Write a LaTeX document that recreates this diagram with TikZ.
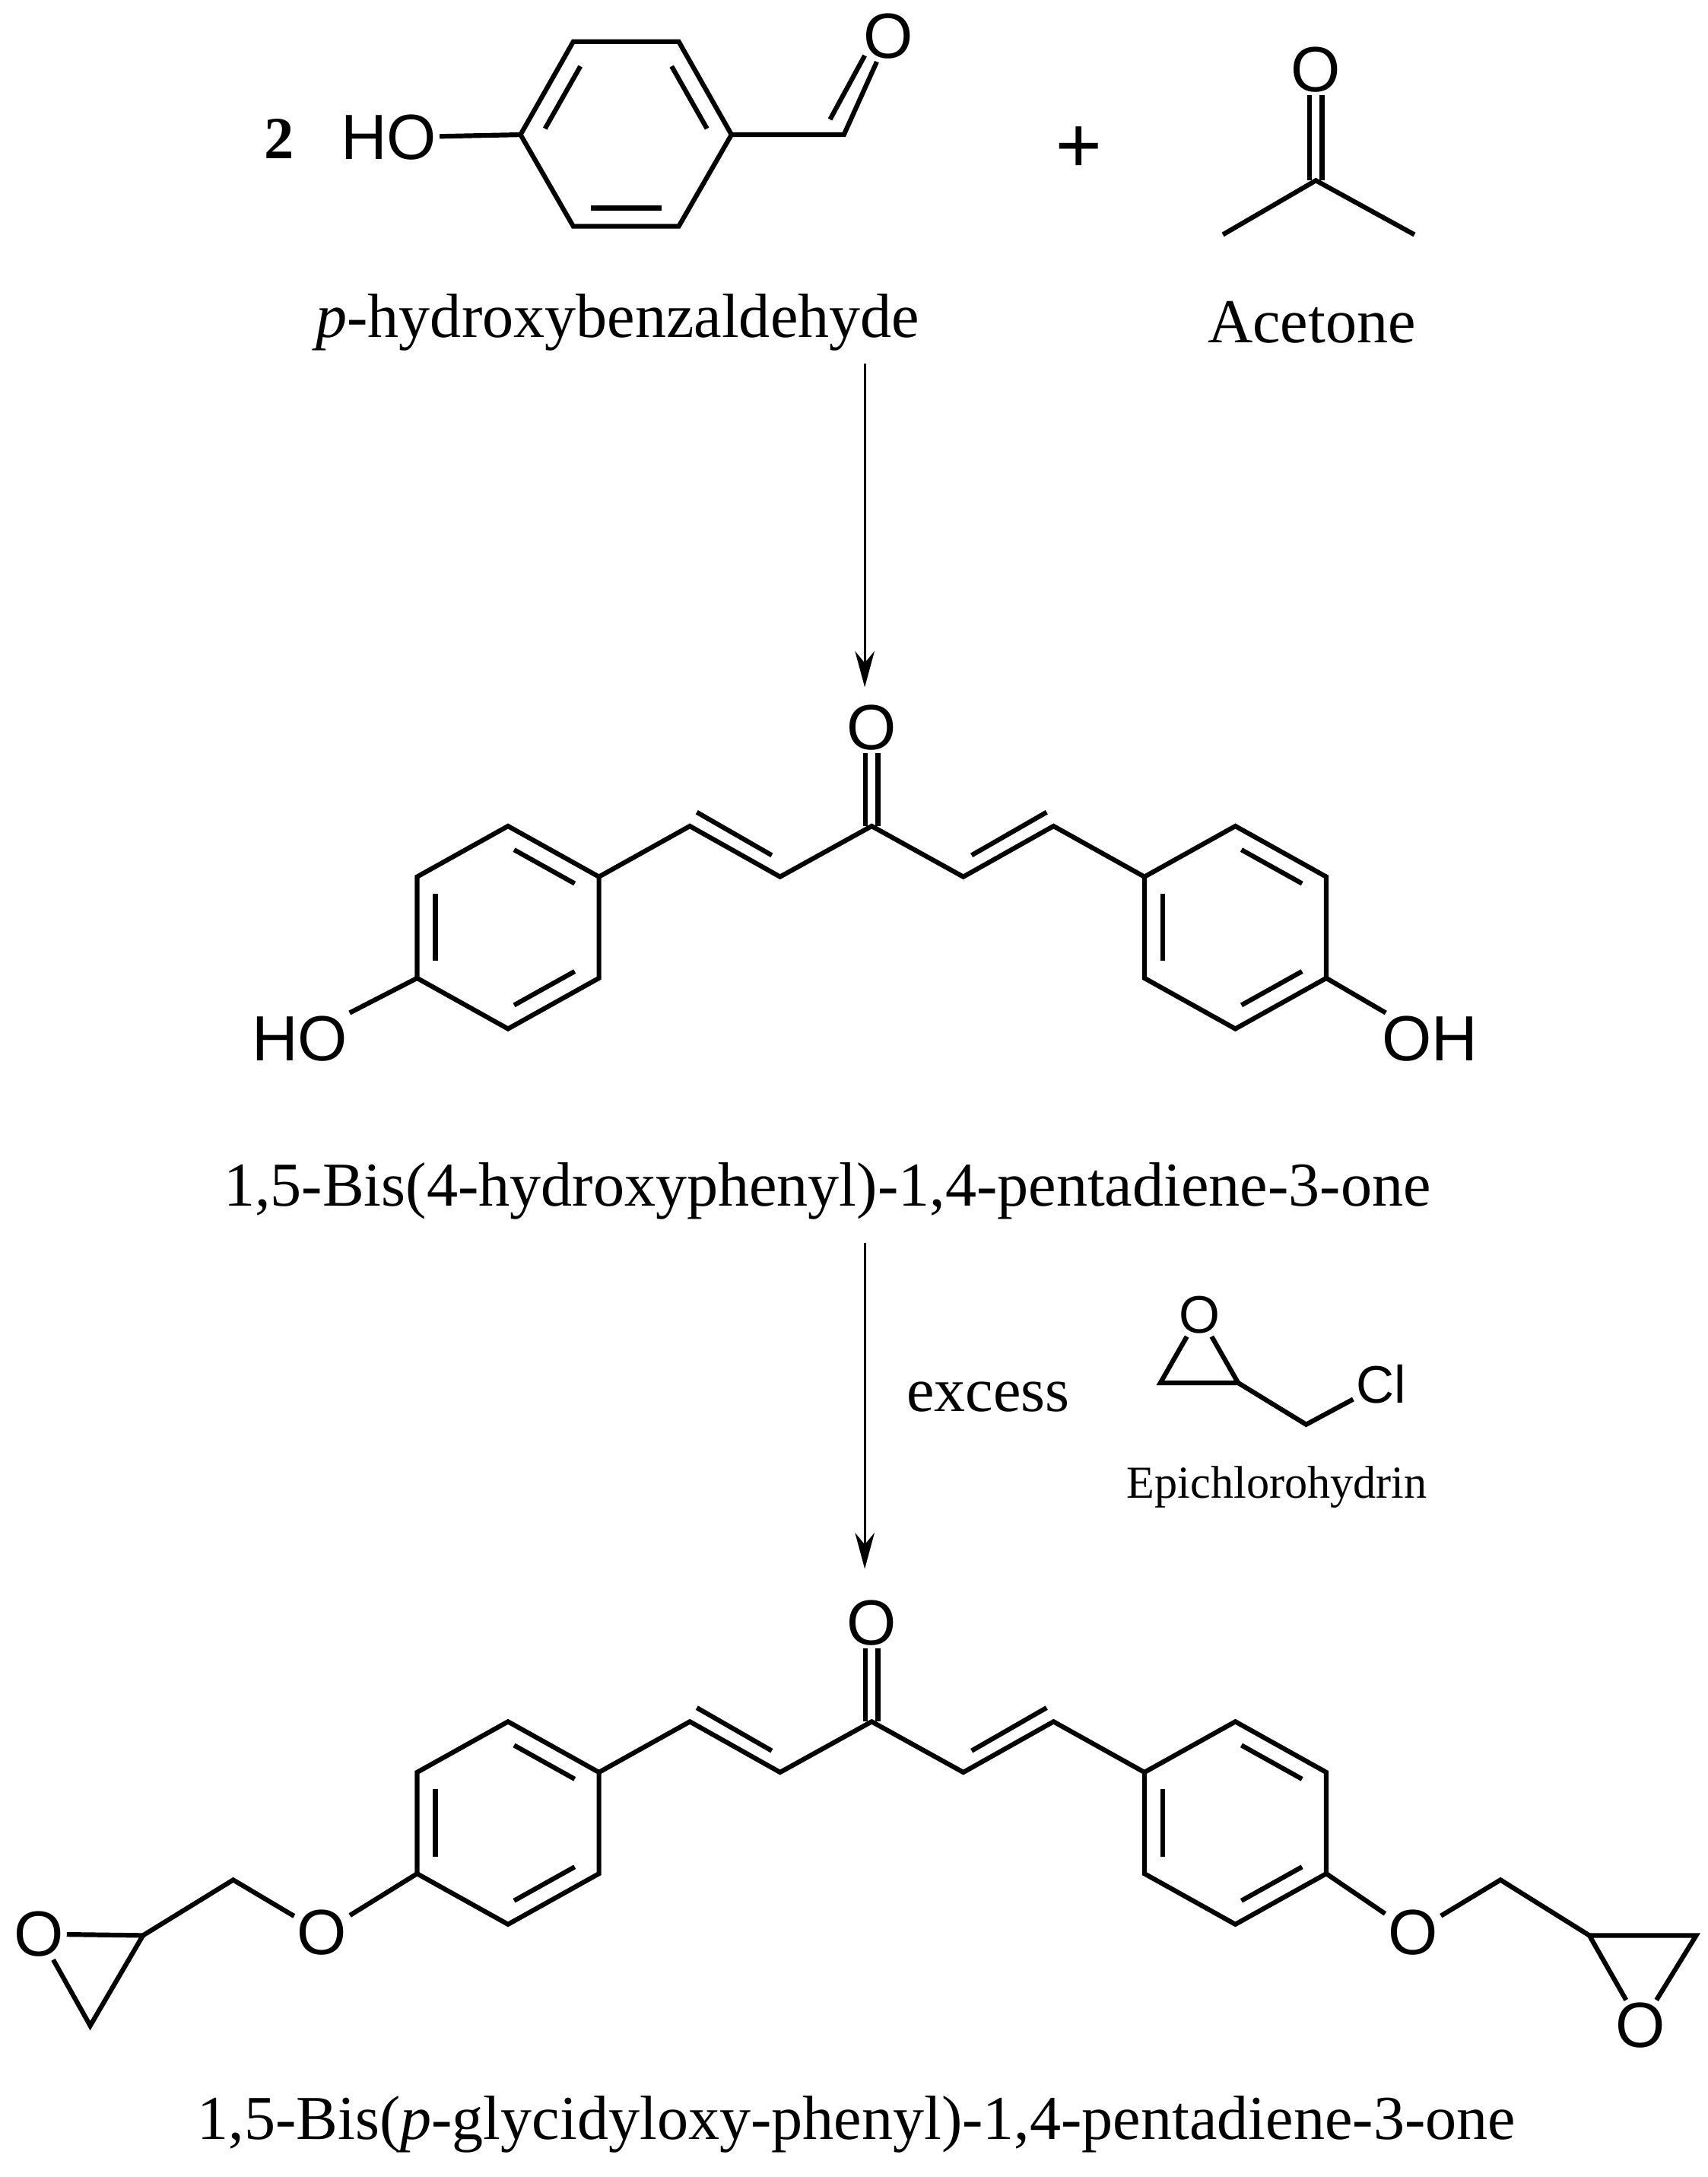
\documentclass[tikz,border=0pt]{standalone}
\usepackage{fontspec}
\setmainfont{Liberation Serif}
\newfontfamily\atomfont{Liberation Sans}
\usetikzlibrary{calc,arrows.meta}
\tikzset{
  bond/.style={line width=3.4pt, line join=miter},
  innerb/.style={line width=3.4pt, shorten <=5pt, shorten >=5pt},
  atom/.style={font=\atomfont\fontsize{46}{46}\selectfont, inner sep=2pt},
  lbl/.style={font=\fontsize{45}{52}\selectfont, inner sep=0pt},
  small/.style={font=\fontsize{33}{38}\selectfont, inner sep=0pt},
  rarrow/.style={line width=1.8pt, -{Stealth[length=26pt,width=14pt]}}
}
\newcommand\hexv[3]{%
  \coordinate (#1t) at ({#2},{#3-73});
  \coordinate (#1ur) at ({#2+65.5},{#3-36.5});
  \coordinate (#1lr) at ({#2+65.5},{#3+36.5});
  \coordinate (#1b) at ({#2},{#3+73});
  \coordinate (#1ll) at ({#2-65.5},{#3+36.5});
  \coordinate (#1ul) at ({#2-65.5},{#3-36.5});
  \coordinate (#1c) at ({#2},{#3});
  \draw[bond] (#1t)--(#1ur)--(#1lr)--(#1b)--(#1ll)--(#1ul)--cycle;
  \draw[innerb] ($(#1c)!0.8!(#1t)$) -- ($(#1c)!0.8!(#1ur)$);
  \draw[innerb] ($(#1c)!0.8!(#1ul)$) -- ($(#1c)!0.8!(#1ll)$);
  \draw[innerb] ($(#1c)!0.8!(#1lr)$) -- ($(#1c)!0.8!(#1b)$);
}
\newcommand\core[2]{% prefix, dy
\begin{scope}[shift={(0,#2)}]
  \hexv{#1L}{366}{668}
  \hexv{#1R}{890}{668}
  \coordinate (#1v1) at (497,595);
  \coordinate (#1v2) at (562,631.5);
  \coordinate (#1C) at (628,595);
  \coordinate (#1v3) at (694,631.5);
  \coordinate (#1v4) at (759,595);
  \node[atom] (#1O) at (628,524) {O};
  \draw[bond] (#1Lur)--(#1v1)--(#1v2)--(#1C)--(#1v3)--(#1v4)--(#1Rul);
  \coordinate (#1i1) at (502,585);
  \coordinate (#1i2) at (556,616);
  \coordinate (#1i3) at (700,616);
  \coordinate (#1i4) at (754,585);
  \draw[bond] (#1i1)--(#1i2);
  \draw[bond] (#1i3)--(#1i4);
  \draw[bond] ([xshift=-4.5pt]#1C) -- ([xshift=-4.5pt]#1O.south);
  \draw[bond] ([xshift=4.5pt]#1C) -- ([xshift=4.5pt]#1O.south);
\end{scope}}
\begin{document}
\begin{tikzpicture}[x=1pt,y=-1pt]
\useasboundingbox[fill=white] (0,0) rectangle (1230,1568);
% ---- p-hydroxybenzaldehyde
\node[lbl,font=\bfseries\fontsize{43}{48}\selectfont] (two) at (201,100) {2};
\node[atom] (HO1) at (280,99) {HO};
\coordinate (aL) at (375,97);
\coordinate (aUL) at (413,30);
\coordinate (aUR) at (489,30);
\coordinate (aR) at (527,97);
\coordinate (aLR) at (489,163);
\coordinate (aLL) at (413,163);
\coordinate (ac) at (451,97);
\draw[bond] (aL)--(aUL)--(aUR)--(aR)--(aLR)--(aLL)--cycle;
\draw[innerb] ($(ac)!0.8!(aL)$) -- ($(ac)!0.8!(aUL)$);
\draw[innerb] ($(ac)!0.8!(aUR)$) -- ($(ac)!0.8!(aR)$);
\draw[innerb] ($(ac)!0.8!(aLL)$) -- ($(ac)!0.8!(aLR)$);
\draw[bond] (HO1) -- (aL);
\coordinate (ald) at (608,97);
\node[atom] (Oald) at (640,26) {O};
\draw[bond] (aR) -- (ald) -- (Oald);
\coordinate (ai1) at (598,86);
\coordinate (ai2) at (623,40);
\draw[bond] (ai1) -- (ai2);
\node[lbl] (nA) at (445,232) {\textit{p}-hydroxybenzaldehyde};
% ---- plus and acetone
\node[font=\bfseries\fontsize{60}{60}\selectfont, inner sep=0pt] (plus) at (777,108) {+};
\coordinate (acC) at (948,130);
\coordinate (acM1) at (881,169);
\coordinate (acM2) at (1019,169);
\node[atom] (acO) at (948,50) {O};
\draw[bond] (acM1) -- (acC) -- (acM2);
\draw[bond] ([xshift=-4.5pt]acC) -- ([xshift=-4.5pt]acO.south);
\draw[bond] ([xshift=4.5pt]acC) -- ([xshift=4.5pt]acO.south);
\node[lbl] (nB) at (945,232) {Acetone};
% ---- arrow 1
\coordinate (a1s) at (623,262);
\coordinate (a1e) at (623,495);
\draw[rarrow] (a1s) -- (a1e);
% ---- middle molecule
\core{m}{0}
\node[atom] (mHO) at (216,748) {HO};
\node[atom] (mOH) at (1030,748) {OH};
\draw[bond] (mLll) -- (mHO);
\draw[bond] (mRlr) -- (mOH);
\node[lbl] (nC) at (596,858) {1,5-Bis(4-hydroxyphenyl)-1,4-pentadiene-3-one};
% ---- arrow 2 and reagent
\coordinate (a2s) at (623,895);
\coordinate (a2e) at (623,1130);
\draw[rarrow] (a2s) -- (a2e);
\node[lbl] (ex) at (712,1006) {excess};
\node[atom,font=\atomfont\fontsize{38}{38}\selectfont] (eO) at (864,947) {O};
\coordinate (eC1) at (836,996);
\coordinate (eC2) at (892,996);
\coordinate (eCH) at (941,1026);
\node[atom,font=\atomfont\fontsize{38}{38}\selectfont] (eCl) at (995,997) {Cl};
\draw[bond] (eO) -- (eC1) -- (eC2) -- (eO);
\draw[bond] (eC2) -- (eCH) -- (eCl);
\node[small] (nE) at (920,1071) {Epichlorohydrin};
% ---- bottom molecule
\core{b}{645}
\node[atom] (bO1) at (232,1392) {O};
\coordinate (bCH1) at (168,1354);
\coordinate (bEC1) at (103,1394);
\coordinate (bEB1) at (65,1459);
\node[atom] (bEO1) at (28,1393) {O};
\draw[bond] (bLll) -- (bO1) -- (bCH1) -- (bEC1);
\draw[bond] (bEO1) -- (bEC1) -- (bEB1) -- (bEO1);
\node[atom] (bO2) at (1018,1392) {O};
\coordinate (bCH2) at (1081,1354);
\coordinate (bEC2) at (1145,1394);
\coordinate (bEB2) at (1222,1394);
\node[atom] (bEO2) at (1182,1459) {O};
\draw[bond] (bRlr) -- (bO2) -- (bCH2) -- (bEC2);
\draw[bond] (bEC2) -- (bEB2) -- (bEO2) -- (bEC2);
\node[lbl] (nD) at (617,1530) {1,5-Bis(\textit{p}-glycidyloxy-phenyl)-1,4-pentadiene-3-one};
\end{tikzpicture}
\end{document}
